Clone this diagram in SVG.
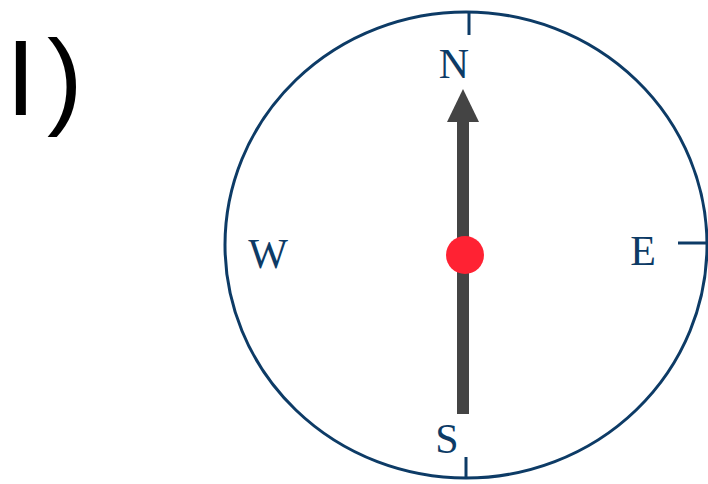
<svg xmlns="http://www.w3.org/2000/svg" width="708" height="484" viewBox="0 0 708 484">
<style>
.lbl{font-family:"Liberation Serif","Times New Roman",serif;font-size:42px;fill:#0d3b66;text-anchor:middle}
.ring{fill:none;stroke:#0d3b66;stroke-width:3}
.tick{stroke:#0d3b66;stroke-width:3}
</style>
<rect width="708" height="484" fill="#ffffff"/>
<text x="6" y="115" font-family="Liberation Sans, Arial, sans-serif" font-size="107" fill="#000">I<tspan x="47">)</tspan></text>
<g id="dial">
<ellipse class="ring" cx="466" cy="245" rx="241" ry="233"/>
<line class="tick" x1="469" y1="12" x2="469" y2="35"/>
<line class="tick" x1="466" y1="457" x2="466" y2="478"/>
<line class="tick" x1="678" y1="243" x2="707" y2="243"/>
</g>
<g id="labels">
<text class="lbl" x="454" y="78">N</text>
<text class="lbl" x="268" y="268">W</text>
<text class="lbl" x="643" y="265">E</text>
<text class="lbl" x="447" y="453">S</text>
</g>
<g id="needle">
<rect x="457" y="118" width="12" height="296" fill="#444444"/>
<polygon points="463,89 447,122 479,122" fill="#444444"/>
<circle cx="465" cy="255" r="19" fill="#ff2233"/>
</g>
</svg>
